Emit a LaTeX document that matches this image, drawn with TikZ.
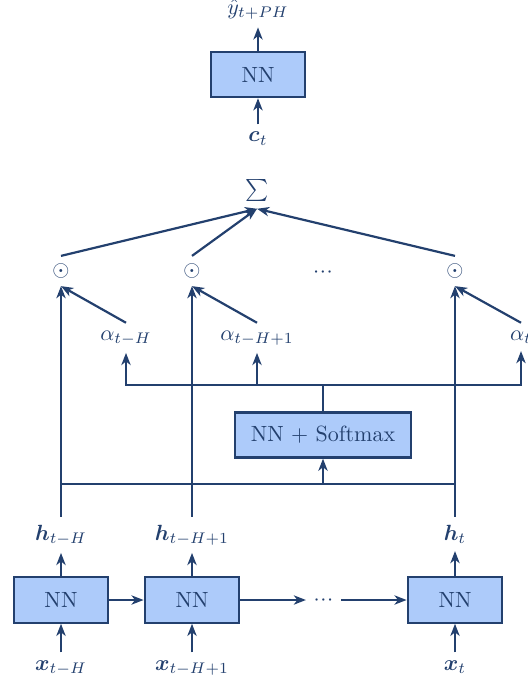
\documentclass[tikz,border=0pt]{standalone}
\usepackage{amsmath,bm}
\usetikzlibrary{arrows.meta,calc}
\definecolor{navy}{HTML}{23406E}
\definecolor{boxfill}{HTML}{ADCBFA}
\newcommand{\mydots}{${\cdot}\mkern0.5mu{\cdot}\mkern0.5mu{\cdot}$}
\begin{document}
\begin{tikzpicture}[x=0.4545pt,y=-0.4545pt,
  every node/.style={text=navy},
  nnbox/.style={draw=navy,fill=boxfill,line width=1pt,minimum width=43pt,minimum height=20.6pt,inner sep=0pt},
  conn/.style={draw=navy,line width=1pt},
  arr/.style={conn,-{Stealth[length=5.5pt,width=4.2pt,inset=1.6pt]}},
  lbl/.style={anchor=base}]
\useasboundingbox (0,0) rectangle (527,679);

% top block
\node[nnbox] (top) at (258,74.5) {NN};
\node[lbl] (yhat) at (258,14.5) {$\hat{y}_{t+PH}$};
\node[lbl] (ct) at (258,142) {$\bm{c}_t$};
\draw[arr] (ct) -- (top);
\draw[arr] (top) -- (yhat);

% sum and products
\node (sum) at (257,190) {$\sum$};
\node (o1) at (61,271) {$\odot$};
\node (o2) at (192,271) {$\odot$};
\node (od) at (323,273) {\mydots};
\node (o3) at (455,271) {$\odot$};
\draw[arr] (o1.north) -- (sum.south);
\draw[arr] (o2.north) -- (sum.south);
\draw[arr] (o3.north) -- (sum.south);

% attention weights
\node[lbl] (a1) at (126,340) {$\alpha_{t-H}$};
\node[lbl] (a2) at (257,340) {$\alpha_{t-H+1}$};
\node[lbl] (a3) at (521,340) {$\alpha_t$};
\draw[arr] (a1.north) -- (o1.south);
\draw[arr] (a2.north) -- (o2.south);
\draw[arr] (a3.north) -- (o3.south);

% softmax
\node[nnbox,minimum width=80pt,minimum height=20.5pt] (soft) at (323,435) {NN + Softmax};
\coordinate (split) at (323,385);
\draw[conn] (soft.north) -- (split);
\draw[arr] (split) -| (a1);
\draw[arr] (split) -| (a2);
\draw[arr] (split) -| (a3);

% hidden states
\node[lbl] (h1) at (61,540) {$\bm{h}_{t-H}$};
\node[lbl] (h2) at (192,540) {$\bm{h}_{t-H+1}$};
\node[lbl] (h3) at (455,540) {$\bm{h}_t$};
\draw[arr] (h1) -- (o1.south);
\draw[arr] (h2) -- (o2.south);
\draw[arr] (h3) -- (o3.south);
\coordinate (join) at (323,484);
\draw[conn] (h1 |- join) -- (h3 |- join);
\draw[arr] (join) -- (soft);

% encoder chain
\node[nnbox] (n1) at (61,600) {NN};
\node[nnbox] (n2) at (192,600) {NN};
\node (bd) at (323.5,601) {\mydots};
\node[nnbox] (n3) at (455,600) {NN};
\node[lbl] (x1) at (61,670) {$\bm{x}_{t-H}$};
\node[lbl] (x2) at (192,670) {$\bm{x}_{t-H+1}$};
\node[lbl] (x3) at (455,670) {$\bm{x}_t$};
\draw[arr] (x1) -- (n1);
\draw[arr] (x2) -- (n2);
\draw[arr] (x3) -- (n3);
\draw[arr] (n1) -- (h1);
\draw[arr] (n2) -- (h2);
\draw[arr] (n3) -- (h3);
\draw[arr] (n1) -- (n2);
\draw[arr] (n2.east) -- (n2.east -| bd.west);
\draw[arr] (bd.east |- n3.west) -- (n3.west);
\end{tikzpicture}
\end{document}
